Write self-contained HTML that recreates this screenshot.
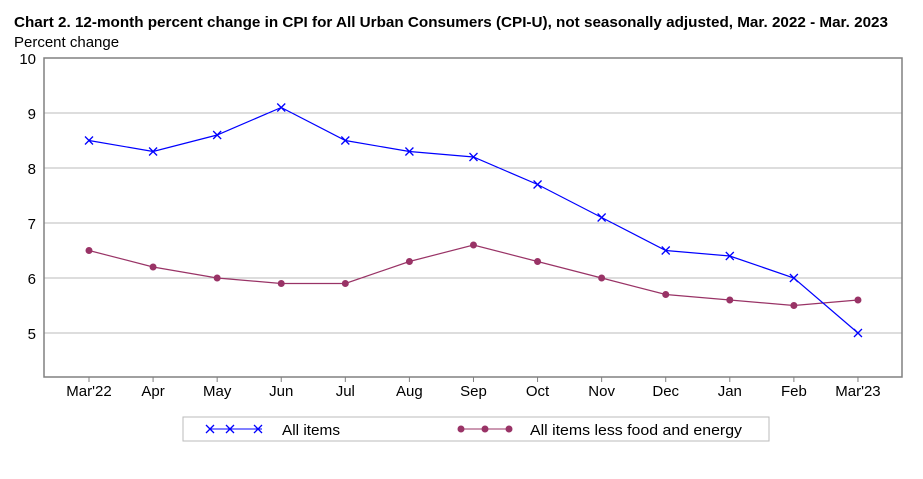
<!DOCTYPE html>
<html><head><meta charset="utf-8"><style>
body{margin:0;background:#fff;}
svg{display:block;font-family:"Liberation Sans",sans-serif;}
</style></head><body>
<svg width="923" height="479" id="chart">
<text x="14" y="27" font-size="15" font-weight="bold" fill="#000" textLength="874" lengthAdjust="spacingAndGlyphs">Chart 2. 12-month percent change in CPI for All Urban Consumers (CPI-U), not seasonally adjusted, Mar. 2022 - Mar. 2023</text>
<text x="14" y="47" font-size="15" fill="#000">Percent change</text>
<g id="grid"></g>
<rect x="44" y="58" width="858" height="319" fill="none" stroke="#808080" stroke-width="1.5"/>
<g id="marks"></g>
<rect x="183" y="417" width="586" height="24" fill="#fff" stroke="#bbb"/>
<g>
<line x1="210" y1="429" x2="262" y2="429" stroke="#0000ff"/>
<path d="M206 425l8 8M214 425l-8 8M226 425l8 8M234 425l-8 8M254 425l8 8M262 425l-8 8" stroke="#0000ff" stroke-width="1.3"/>
<text x="282" y="435" font-size="15" textLength="58" lengthAdjust="spacingAndGlyphs">All items</text></g>
<g>
<line x1="461" y1="429" x2="510" y2="429" stroke="#993366"/>
<circle cx="461" cy="429" r="3.5" fill="#993366"/><circle cx="485" cy="429" r="3.5" fill="#993366"/><circle cx="509" cy="429" r="3.5" fill="#993366"/>
<text x="530" y="435" font-size="15" textLength="212" lengthAdjust="spacingAndGlyphs">All items less food and energy</text></g>
</svg>
<script>
const categories=["Mar'22","Apr","May","Jun","Jul","Aug","Sep","Oct","Nov","Dec","Jan","Feb","Mar'23"];
const allItems=[8.5,8.3,8.6,9.1,8.5,8.3,8.2,7.7,7.1,6.5,6.4,6.0,5.0];
const coreItems=[6.5,6.2,6.0,5.9,5.9,6.3,6.6,6.3,6.0,5.7,5.6,5.5,5.6];
const yTicks=[5,6,7,8,9,10];
const NS="http://www.w3.org/2000/svg";
const x=i=>89+i*64.08;
const y=v=>58+(10-v)*55;
function mk(t,a,p){const e=document.createElementNS(NS,t);for(const k in a)e.setAttribute(k,a[k]);p.appendChild(e);return e;}
const grid=document.getElementById('grid'),marks=document.getElementById('marks');
yTicks.forEach(v=>{
 if(v<10){const l=mk('line',{x1:44,x2:902,y1:y(v),y2:y(v),stroke:'#bbb'},grid);
 
 }
 const t=mk('text',{x:36,y:y(v)+6,'font-size':15,'text-anchor':'end'},grid);t.textContent=v;
 
 
});
categories.forEach((c,i)=>{
 mk('line',{x1:x(i),x2:x(i),y1:377,y2:382,stroke:'#808080'},grid);
 const t=mk('text',{x:x(i),y:396,'font-size':15,'text-anchor':'middle'},grid);t.textContent=c;
 
 
});
const lp=mk('polyline',{points:coreItems.map((v,i)=>x(i)+','+y(v)).join(' '),fill:'none',stroke:'#993366','stroke-width':1.2},marks);


coreItems.forEach((v,i)=>{const c=mk('circle',{cx:x(i),cy:y(v),r:3.5,fill:'#993366'},marks);
 
 });
const la=mk('polyline',{points:allItems.map((v,i)=>x(i)+','+y(v)).join(' '),fill:'none',stroke:'#0000ff','stroke-width':1.2},marks);


allItems.forEach((v,i)=>{const X=x(i),Y=y(v);
 const p=mk('path',{d:`M${X-4} ${Y-4}l8 8M${X+4} ${Y-4}l-8 8`,stroke:'#0000ff','stroke-width':1.3},marks);
 
 });
</script>
</body></html>
